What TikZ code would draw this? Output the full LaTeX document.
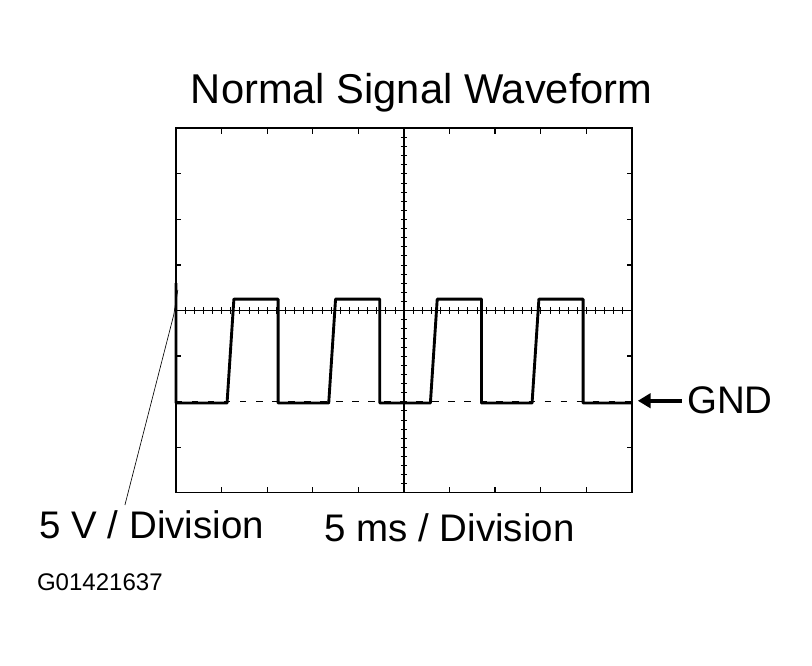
\documentclass[tikz,border=0pt]{standalone}
\usepackage{fontspec}
\setmainfont{Liberation Sans}
\usetikzlibrary{arrows.meta}
\begin{document}
\begin{tikzpicture}[every node/.style={font=\fontsize{24}{28}\selectfont}]
            \useasboundingbox (-3.86,-3.79) rectangle (13.95,10.81);
            % Screen frame
            \draw[thick] (0,0) rectangle (10,8);
            % Centre axes with minor ticks
            \draw[thick] (5,0) -- (5,8);
            \draw[thick] (0,4) -- (10,4);
            \foreach \t in {0.2,0.4,...,9.9} {
                \draw (\t,3.93) -- (\t,4.07);
            }
            \foreach \t in {0.2,0.4,...,7.9} {
                \draw (4.93,\t) -- (5.07,\t);
            }
            %%%%%%%%%%%%%%% Major ticks on frame
            \foreach \x in {1,...,9} {
                \draw[thick] (\x,7.88) -- (\x,8);
                \draw[thick] (\x,0) -- (\x,0.12);
            }
            \foreach \y in {1,...,7} {
                \draw[thick] (0,\y) -- (0.1,\y);
                \draw[thick] (9.9,\y) -- (10,\y);
            }
            %%%%%%%%%%%%%%% GND level
            \draw[densely dashed, dash pattern=on 4pt off 6pt] (0,2) -- (10,2);
            %%%%%%%%%%%%%%% Signal
            \draw[line width=1.8pt, line join=round] (0,4.6) -- (0,1.97)
                \foreach \k in {0,...,3} {
                    -- ({1.12+2.23*\k},1.97) -- ({1.27+2.23*\k},4.25)
                    -- ({2.24+2.23*\k},4.25) -- ({2.24+2.23*\k},1.97)
                } -- (10,1.97);
            %%%%%%%%%%%%%%% Labels
            \node[font=\fontsize{26}{30}\selectfont] (title) at (5.39,8.77) {Normal Signal Waveform};
            \node (vlabel) at (-0.53,-0.70) {5 V / Division};
            \node (hlabel) at (6.0,-0.77) {5 ms / Division};
            \node (gnd) at (12.15,2.02) {GND};
            \node[font=\fontsize{15}{18}\selectfont] (code) at (-1.67,-1.95) {G01421637};
            \coordinate (gndtip) at (10.13,2.02);
            \coordinate (vtip) at (0.04,4.45);
            \draw[-{Triangle[length=8pt,width=9pt]}, line width=2.5pt] (gnd.west) -- (gndtip);
            \draw (vlabel.north -| -1.12,0) -- (-0.05,3.9) -- (vtip);
\end{tikzpicture}
\end{document}
